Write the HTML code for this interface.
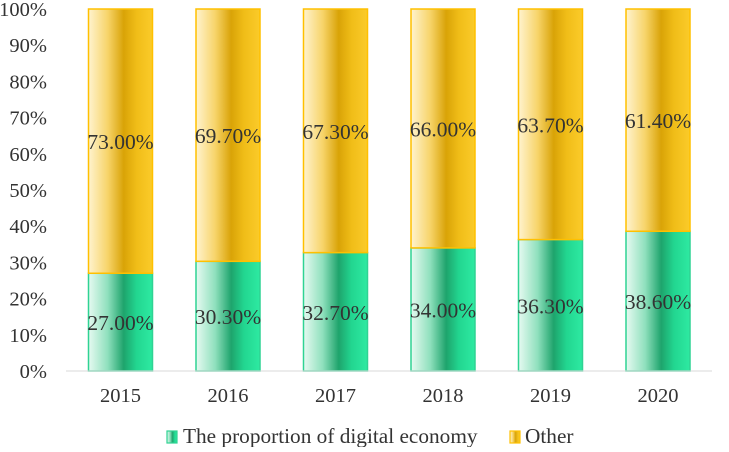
<!DOCTYPE html>
<html><head><meta charset="utf-8"><style>
body{margin:0;background:#fff;}
svg text{font-family:"Liberation Serif",serif;fill:#333;}
</style></head><body>
<svg id="chart" width="729" height="447" viewBox="0 0 729 447">
<defs>
<linearGradient id="gG" x1="0" x2="1" y1="0" y2="0">
<stop offset="0" stop-color="#e6faf1"/><stop offset="0.3" stop-color="#8fe0bd"/><stop offset="0.55" stop-color="#1ea46c"/><stop offset="0.75" stop-color="#22d690"/><stop offset="1" stop-color="#2eeaa2"/>
</linearGradient>
<linearGradient id="gY" x1="0" x2="1" y1="0" y2="0">
<stop offset="0" stop-color="#fff3cf"/><stop offset="0.3" stop-color="#f7d46a"/><stop offset="0.55" stop-color="#d9a307"/><stop offset="0.75" stop-color="#f0bd18"/><stop offset="1" stop-color="#fbcb2a"/>
</linearGradient>
</defs>
<g id="yaxis"></g><g id="bars"></g><g id="xaxis"></g>
<g>
<rect x="167" y="431" width="10" height="12" fill="url(#gG)" stroke="#2fd393" stroke-width="1.2"/>
<text x="183" y="443" font-size="21.3">The proportion of digital economy</text>
<rect x="510" y="431" width="10" height="12" fill="url(#gY)" stroke="#ffc000" stroke-width="1.2"/>
<text x="525" y="443" font-size="21.3">Other</text>
</g>
</svg>
<script>
const categories=["2015","2016","2017","2018","2019","2020"];
const digital=[27.0,30.3,32.7,34.0,36.3,38.6];
const other=[73.0,69.7,67.3,66.0,63.7,61.4];
const yTicks=[0,10,20,30,40,50,60,70,80,90,100];
const NS="http://www.w3.org/2000/svg";
const y0=371,y1=9,x0=120.5,step=107.5,bw=64;
const yS=v=>y0-(y0-y1)*v/100;
const xS=i=>x0+i*step;
function mk(tag,attrs,parent,txt){const e=document.createElementNS(NS,tag);for(const k in attrs)e.setAttribute(k,attrs[k]);if(txt!==undefined)e.textContent=txt;parent.appendChild(e);return e;}
const ya=document.getElementById('yaxis'),ba=document.getElementById('bars'),xa=document.getElementById('xaxis');
yTicks.forEach(t=>{const e=mk('text',{x:47,y:yS(t)+7,'font-size':20.5,'text-anchor':'end'},ya,t+'%');

});
const ax=mk('line',{x1:66,x2:712,y1:y0,y2:y0,stroke:'#d9d9d9','stroke-width':1},xa);


categories.forEach((c,i)=>{
const cx=xS(i);
const gy=yS(digital[i]);
const r1=mk('rect',{x:cx-bw/2,y:gy,width:bw,height:y0-gy,fill:'url(#gG)',stroke:'#2fd393','stroke-width':1.5},ba);


const oy=yS(digital[i]+other[i]);
const r2=mk('rect',{x:cx-bw/2,y:oy,width:bw,height:gy-oy,fill:'url(#gY)',stroke:'#ffc000','stroke-width':1.5},ba);


const l1=mk('text',{x:cx,y:(gy+y0)/2+8,'font-size':21.5,'text-anchor':'middle'},ba,digital[i].toFixed(2)+'%');


const l2=mk('text',{x:cx,y:(oy+gy)/2+8,'font-size':21.5,'text-anchor':'middle'},ba,other[i].toFixed(2)+'%');


const xl=mk('text',{x:cx,y:402,'font-size':20.5,'text-anchor':'middle'},xa,c);


});
</script>
</body></html>
